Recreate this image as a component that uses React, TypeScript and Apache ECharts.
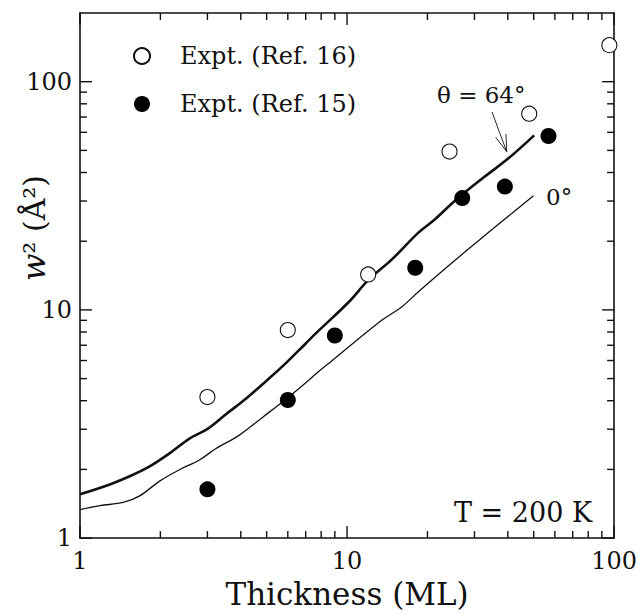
import React, { useEffect, useRef } from "react";
import * as echarts from "echarts";

// Experimental data
const ref16X = [3, 6, 12, 24.2, 48.1, 96];
const ref16Y = [4.15, 8.16, 14.3, 49.4, 72.4, 144.6];
const ref15X = [3, 6, 9, 18, 27, 39, 56.8];
const ref15Y = [1.636, 4.03, 7.72, 15.3, 30.9, 34.7, 57.8];

// Theory curves
const theta64X = [1, 1.293, 1.536, 1.823, 2.164, 2.57, 3.004, 3.52, 4.18, 4.96, 5.89, 6.99, 7.83, 10.13, 12.03, 14.69, 18.5, 21.3, 25.6, 32.7, 40.0, 50.2];
const theta64Y = [1.556, 1.719, 1.866, 2.061, 2.35, 2.73, 3.01, 3.49, 4.08, 4.86, 5.83, 7.11, 8.11, 10.8, 13.53, 16.6, 21.8, 24.9, 30.4, 38.3, 45.9, 58.2];
const theta0X = [1, 1.187, 1.45, 1.673, 1.986, 2.357, 2.8, 3.23, 3.94, 4.82, 5.89, 6.99, 7.83, 8.78, 13.48, 16.0, 18.5, 24.6, 30.9, 38.8, 49.9];
const theta0Y = [1.333, 1.387, 1.433, 1.531, 1.777, 1.994, 2.2, 2.47, 2.82, 3.38, 4.05, 4.78, 5.37, 5.99, 9.0, 10.3, 12.0, 16.0, 20.0, 24.9, 31.6];

// Axis ticks
const xMajor = [1, 10, 100];
const xMinor = [2, 3, 4, 5, 6, 7, 8, 9, 20, 30, 40, 50, 60, 70, 80, 90];
const yMajor = [1, 10, 100];
const yMinor = [2, 3, 4, 5, 6, 7, 8, 9, 20, 30, 40, 50, 60, 70, 80, 90];

const X_MIN = 1;
const X_MAX = 100;
const Y_MIN = 1;
const Y_MAX = 200;

const FONT = "DejaVu Serif";
const INK = "#111111";
const MAJOR_LEN = 12;
const MINOR_LEN = 7;

const zip = (xs: number[], ys: number[]) => xs.map((x, i) => [x, ys[i]]);

function makeAxis(kind: "x" | "y", position: string, labels: boolean, extra: any = {}) {
  return {
    type: "log",
    logBase: 10,
    min: kind === "x" ? X_MIN : Y_MIN,
    max: kind === "x" ? X_MAX : Y_MAX,
    position,
    axisLine: { show: true, onZero: false, lineStyle: { color: INK, width: 1.6 } },
    axisTick: { show: false },
    axisLabel: labels
      ? {
          show: true,
          customValues: kind === "x" ? xMajor : yMajor,
          fontFamily: FONT,
          fontSize: 24,
          color: INK,
          margin: kind === "x" ? 11 : 8,
        }
      : { show: false },
    splitLine: { show: false },
    minorTick: { show: false },
    ...extra,
  };
}

const num = (v: any): number | null => {
  const n = Array.isArray(v) ? v[0] : v;
  return typeof n === "number" && isFinite(n) ? n : null;
};

export default function App() {
  const ref = useRef<HTMLDivElement>(null);
  useEffect(() => {
    if (!ref.current) return;
    const chart = echarts.init(ref.current, undefined, { renderer: "svg" });

    const option: any = {
      animation: false,
      backgroundColor: "#ffffff",
      grid: { left: 80, right: 23, top: 13, bottom: 66 },
      xAxis: [
        makeAxis("x", "bottom", true, {
          name: "Thickness (ML)",
          nameLocation: "middle",
          nameGap: 33,
          nameTextStyle: { fontFamily: FONT, fontSize: 31, color: INK },
        }),
        makeAxis("x", "top", false),
      ],
      yAxis: [makeAxis("y", "left", true), makeAxis("y", "right", false)],
      legend: {
        data: ["Expt. (Ref. 16)", "Expt. (Ref. 15)"],
        orient: "vertical",
        left: 128,
        top: 39,
        itemWidth: 16,
        itemHeight: 16,
        itemGap: 24,
        textStyle: { fontFamily: FONT, fontSize: 24, color: INK, padding: [0, 0, 0, 25] },
      },
      series: [
        {
          name: "theta64",
          type: "line",
          data: zip(theta64X, theta64Y),
          showSymbol: false,
          smooth: 0.35,
          lineStyle: { color: INK, width: 2.6 },
          z: 2,
        },
        {
          name: "theta0",
          type: "line",
          data: zip(theta0X, theta0Y),
          showSymbol: false,
          smooth: 0.35,
          lineStyle: { color: INK, width: 1.3 },
          z: 2,
        },
        {
          name: "Expt. (Ref. 16)",
          type: "scatter",
          data: zip(ref16X, ref16Y),
          symbol: "circle",
          symbolSize: 15,
          itemStyle: { color: "#ffffff", borderColor: INK, borderWidth: 1.1, opacity: 1 },
          z: 3,
        },
        {
          name: "Expt. (Ref. 15)",
          type: "scatter",
          data: zip(ref15X, ref15Y),
          symbol: "circle",
          symbolSize: 16,
          itemStyle: { color: "#000000", opacity: 1 },
          z: 3,
        },
      ],
    };
    chart.setOption(option);

    const annotations: any[] = [
      {
        type: "text",
        x: 34,
        y: 228,
        rotation: Math.PI / 2,
        style: {
          text: "{it|w}² (Å²)",
          fontFamily: FONT,
          fontSize: 30,
          fill: INK,
          align: "center",
          verticalAlign: "middle",
          rich: { it: { fontFamily: FONT, fontSize: 32, fontStyle: "italic", fill: INK } },
        },
      },
      {
        type: "text",
        x: 437,
        y: 95,
        style: { text: "θ = 64°", fontFamily: FONT, fontSize: 23, fill: INK, align: "left", verticalAlign: "middle" },
      },
      {
        type: "text",
        x: 546,
        y: 197,
        style: { text: "0°", fontFamily: FONT, fontSize: 23, fill: INK, align: "left", verticalAlign: "middle" },
      },
      {
        type: "text",
        x: 454,
        y: 512,
        style: { text: "T = 200 K", fontFamily: FONT, fontSize: 27, fill: INK, align: "left", verticalAlign: "middle" },
      },
      { type: "line", shape: { x1: 492, y1: 112, x2: 506.7, y2: 151.7 }, style: { stroke: INK, lineWidth: 0.9 } },
      { type: "line", shape: { x1: 495.7, y1: 137.3, x2: 506.7, y2: 151.7 }, style: { stroke: INK, lineWidth: 0.9 } },
      { type: "line", shape: { x1: 506, y1: 134, x2: 506.7, y2: 151.7 }, style: { stroke: INK, lineWidth: 0.9 } },
    ];

    // Inward ticks on all four sides, positioned through each axis' own scale
    const ticks: any[] = [];
    const mk = (x1: number, y1: number, x2: number, y2: number) => ({
      type: "line",
      z: 100,
      shape: { x1, y1, x2, y2 },
      style: { stroke: INK, lineWidth: 1.4 },
    });
    try {
      const xPx = (v: number) => num(chart.convertToPixel({ xAxisIndex: 0 } as any, v as any));
      const yPx = (v: number) => num(chart.convertToPixel({ yAxisIndex: 0 } as any, v as any));
      const bottom = yPx(Y_MIN);
      const top = yPx(Y_MAX);
      const left = xPx(X_MIN);
      const right = xPx(X_MAX);
      if (bottom !== null && top !== null && left !== null && right !== null) {
        [...xMajor, ...xMinor].forEach((v) => {
          const len = xMajor.indexOf(v) >= 0 ? MAJOR_LEN : MINOR_LEN;
          const x = xPx(v);
          if (x === null) return;
          ticks.push(mk(x, bottom, x, bottom - len));
          ticks.push(mk(x, top, x, top + len));
        });
        [...yMajor, ...yMinor].forEach((v) => {
          const len = yMajor.indexOf(v) >= 0 ? MAJOR_LEN : MINOR_LEN;
          const y = yPx(v);
          if (y === null) return;
          ticks.push(mk(left, y, left + len, y));
          ticks.push(mk(right, y, right - len, y));
        });
      }
    } catch (e) {
      // leave ticks empty if conversion is unavailable
    }
    chart.setOption({ graphic: [...annotations, ...ticks] });

    return () => chart.dispose();
  }, []);
  return <div ref={ref} style={{ position: "fixed", left: 0, top: 0, width: 640, height: 614 }} />;
}
